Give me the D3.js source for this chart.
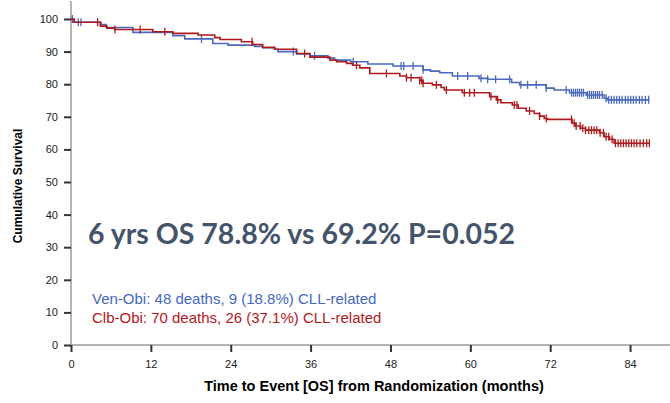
<!DOCTYPE html>
<html>
<head>
<meta charset="utf-8">
<script src="https://cdn.jsdelivr.net/npm/d3@7"></script>
<style>
  html, body { margin: 0; padding: 0; background: #fff; }
  svg { display: block; }
</style>
</head>
<body>
<svg id="chart" width="670" height="403"></svg>
<script>
// Kaplan–Meier overall survival, Ven-Obi vs Clb-Obi
const xTicks = [0, 12, 24, 36, 48, 60, 72, 84];
const yTicks = [0, 10, 20, 30, 40, 50, 60, 70, 80, 90, 100];

// step points: [month, survival % after the event]
const venObiSteps = [
  [0, 100], [0.3, 99.0], [4.5, 98.3], [5.3, 97.4], [9.3, 95.9], [15.3, 94.9],
  [17.1, 93.9], [21.3, 92.5], [23.6, 92.0], [27.6, 91.6], [28.8, 91.2],
  [30.6, 90.7], [31.1, 90.0], [33.9, 89.3], [35.9, 88.7], [38.6, 88.0],
  [39.6, 87.4], [42.0, 86.9], [44.6, 86.2], [48.4, 85.6], [52.9, 84.4],
  [54.0, 84.0], [55.4, 83.5], [57.3, 82.5], [61.3, 81.8], [62.6, 81.5],
  [66.2, 80.5], [67.4, 79.8], [71.4, 78.8], [72.6, 78.2], [74.9, 77.4],
  [77.4, 76.7], [80.1, 75.7], [80.6, 75.2]
];
const venObiEnd = 86.9;
const venObiCensored = [
  0.2, 1.1, 1.5, 19.6, 33.4, 36.6, 42.4, 49.6, 50.0, 51.4, 52.9, 58.1, 59.6,
  61.6, 62.6, 63.8, 65.9, 67.6, 68.6, 69.9, 71.4, 74.4, 75.2, 75.5, 75.8,
  76.1, 76.4, 76.7, 77.0, 77.6, 77.9, 78.2, 78.5, 78.8, 79.1, 79.4, 79.8,
  80.4, 80.8, 81.2, 81.6, 82.0, 82.4, 82.8, 83.3, 83.7, 84.1, 84.5, 84.9,
  85.4, 85.8, 86.3, 86.8
];

const clbObiSteps = [
  [0, 100], [0.5, 99.0], [4.4, 97.8], [5.4, 97.2], [6.6, 96.8], [12.3, 96.1],
  [15.3, 95.6], [19.1, 95.1], [21.6, 94.3], [22.4, 93.7], [25.6, 93.0],
  [27.3, 92.2], [28.8, 91.3], [30.6, 90.7], [33.9, 89.4], [35.9, 88.3],
  [38.9, 87.4], [39.9, 86.9], [41.4, 86.4], [42.3, 85.8], [43.4, 85.0],
  [44.9, 83.3], [49.4, 82.5], [50.4, 82.0], [52.4, 81.1], [52.9, 80.3],
  [54.3, 79.8], [55.6, 79.0], [56.1, 78.2], [58.8, 77.4], [62.9, 76.2],
  [63.9, 75.2], [64.6, 74.3], [66.3, 73.6], [67.2, 72.6], [68.4, 71.8],
  [69.6, 71.0], [70.4, 70.2], [71.1, 69.5], [71.6, 69.2], [75.3, 68.0],
  [75.8, 67.2], [76.6, 66.5], [77.3, 65.9], [79.4, 65.1], [80.1, 63.9],
  [80.9, 63.1], [81.6, 61.9]
];
const clbObiEnd = 86.9;
const clbObiCensored = [
  4.0, 6.6, 10.4, 14.1, 27.2, 35.1, 42.9, 47.4, 50.4, 51.1, 52.4, 52.7, 52.9,
  54.9, 56.4, 59.1, 59.9, 60.6, 63.1, 64.1, 66.6, 67.0, 68.9, 70.4, 71.4,
  75.2, 75.6, 75.9, 76.5, 76.9, 77.3, 77.8, 78.2, 78.6, 79.0, 79.5, 80.0,
  80.4, 80.8, 81.3, 81.8, 82.2, 82.6, 83.0, 83.4, 83.8, 84.2, 84.6, 85.0,
  85.5, 86.0, 86.5, 86.9
];

const headline = "6 yrs OS 78.8% vs 69.2% P=0.052";
const legendLines = [
  { text: "Ven-Obi: 48 deaths, 9 (18.8%) CLL-related", color: "#4468c0" },
  { text: "Clb-Obi: 70 deaths, 26 (37.1%) CLL-related", color: "#b5161c" }
];

const series = [
  { steps: venObiSteps, end: venObiEnd, censored: venObiCensored, color: "#4a68bd" },
  { steps: clbObiSteps, end: clbObiEnd, censored: clbObiCensored, color: "#b01a1d" }
];

const svg = d3.select("#chart");
const x = d3.scaleLinear().domain([0, 90]).range([71, 670]);
const y = d3.scaleLinear().domain([0, 100]).range([345, 19]);

// axis lines
svg.append("line")
  .attr("x1", x(0)).attr("x2", x(0))
  .attr("y1", y(0)).attr("y2", y(105.5))
  .attr("stroke", "#b4b4b4").attr("stroke-width", 2);
svg.append("line")
  .attr("x1", x(0)).attr("x2", x(90))
  .attr("y1", y(0)).attr("y2", y(0))
  .attr("stroke", "#b4b4b4").attr("stroke-width", 2);

const yAxis = svg.append("g")
  .attr("transform", `translate(${x(0)},0)`)
  .call(d3.axisLeft(y).tickValues(yTicks).tickSize(7).tickPadding(6));
const xAxis = svg.append("g")
  .attr("transform", `translate(0,${y(0)})`)
  .call(d3.axisBottom(x).tickValues(xTicks).tickSize(7).tickPadding(8));

[yAxis, xAxis].forEach(g => {
  g.select(".domain").remove();
  g.selectAll(".tick line").attr("stroke", "#333").attr("stroke-width", 2);
  g.selectAll(".tick text")
    .attr("fill", "#222")
    .style("font-family", "'Liberation Sans', Arial, sans-serif")
    .style("font-size", "11px");
});

// survival step curves
function survivalAt(steps, t) {
  let s = steps[0][1];
  for (const [m, v] of steps) { if (m <= t) s = v; else break; }
  return s;
}

series.forEach(sr => {
  const pts = sr.steps.concat([[sr.end, sr.steps[sr.steps.length - 1][1]]]);
  const line = d3.line()
    .x(d => x(d[0]))
    .y(d => y(d[1]))
    .curve(d3.curveStepAfter);
  svg.append("path")
    .datum(pts)
    .attr("fill", "none")
    .attr("stroke", sr.color)
    .attr("stroke-width", 1.6)
    .attr("d", line);

  svg.append("g")
    .selectAll("line")
    .data(sr.censored)
    .join("line")
    .attr("x1", d => x(d)).attr("x2", d => x(d))
    .attr("y1", d => y(survivalAt(sr.steps, d)) - 4)
    .attr("y2", d => y(survivalAt(sr.steps, d)) + 4)
    .attr("stroke", sr.color)
    .attr("stroke-width", 1.3);
});

// headline
svg.append("text")
  .attr("x", 88).attr("y", 244)
  .attr("fill", "#44546a")
  .attr("textLength", 427)
  .attr("lengthAdjust", "spacingAndGlyphs")
  .style("font-family", "Lato, 'Open Sans', sans-serif")
  .style("font-weight", "bold")
  .style("font-size", "29px")
  .text(headline);

// group notes
svg.append("g")
  .selectAll("text")
  .data(legendLines)
  .join("text")
  .attr("x", 92)
  .attr("y", (d, i) => 304 + i * 19)
  .attr("fill", d => d.color)
  .style("font-family", "'Liberation Sans', Arial, sans-serif")
  .style("font-size", "15px")
  .text(d => d.text);

// axis titles
svg.append("text")
  .attr("transform", "translate(22,186) rotate(-90)")
  .attr("text-anchor", "middle")
  .attr("fill", "#000")
  .style("font-family", "'Liberation Sans', Arial, sans-serif")
  .style("font-weight", "bold")
  .style("font-size", "12px")
  .text("Cumulative Survival");

svg.append("text")
  .attr("x", 374).attr("y", 391)
  .attr("text-anchor", "middle")
  .attr("fill", "#000")
  .style("font-family", "'Liberation Sans', Arial, sans-serif")
  .style("font-weight", "bold")
  .style("font-size", "14.5px")
  .text("Time to Event [OS] from Randomization (months)");
</script>
</body>
</html>
